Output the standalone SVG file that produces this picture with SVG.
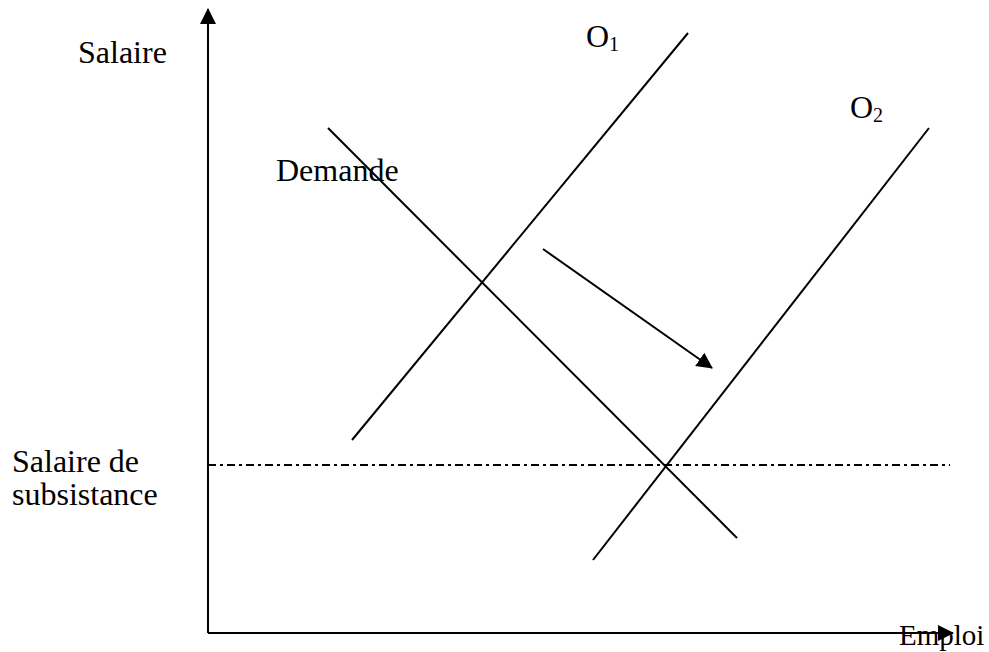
<svg xmlns="http://www.w3.org/2000/svg" width="989" height="652" viewBox="0 0 989 652">
<defs>
<style>
.ln{stroke:#000;stroke-width:2;fill:none}
.t{font-family:"Liberation Serif","Times New Roman",serif;font-size:32px;fill:#000}
.sub{font-size:20px}
</style>
<marker id="ahb" markerWidth="16" markerHeight="16" refX="15" refY="8" orient="auto" markerUnits="userSpaceOnUse" viewBox="0 0 16 16">
<path d="M0,0 L16,8 L0,16 z" fill="#000"/>
</marker>
</defs>
<rect width="989" height="652" fill="#fff"/>
<g id="connectors">
<line class="ln" x1="208" y1="633" x2="208" y2="9" marker-end="url(#ahb)"/>
<line class="ln" x1="208" y1="633" x2="953" y2="633" marker-end="url(#ahb)"/>
<line class="ln" x1="208" y1="465" x2="950" y2="465" stroke-dasharray="8,4,3,4"/>
<line class="ln" x1="328" y1="128" x2="737" y2="538"/>
<line class="ln" x1="352" y1="440" x2="688" y2="33"/>
<line class="ln" x1="593" y1="560" x2="929" y2="128"/>
<line class="ln" x1="543" y1="249" x2="712" y2="368" marker-end="url(#ahb)"/>
</g>
<g id="labels">
<text class="t" x="78" y="63">Salaire</text>
<text class="t" x="586" y="47">O<tspan class="sub" dy="4">1</tspan></text>
<text class="t" x="850" y="118">O<tspan class="sub" dy="4">2</tspan></text>
<text class="t" x="276" y="181">Demande</text>
<text class="t" x="12" y="472">Salaire de</text>
<text class="t" x="12" y="505">subsistance</text>
<text class="t" x="899" y="645" style="font-size:29px">Emploi</text>
</g>
</svg>
